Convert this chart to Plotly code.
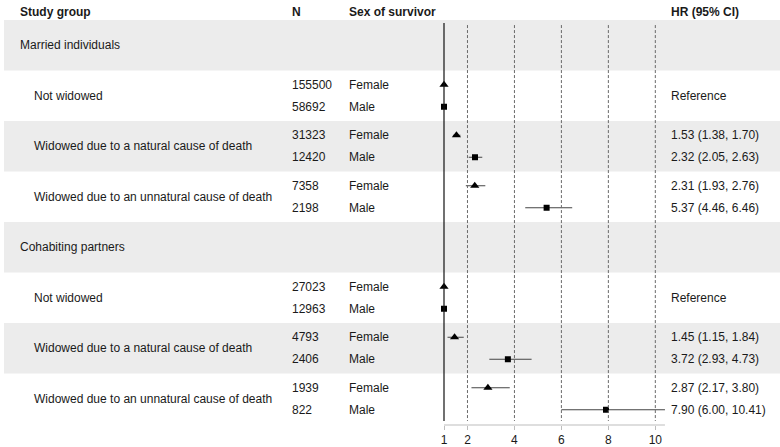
import plotly.graph_objects as go

# ---------------- data ----------------
groups = ["Married individuals", "Cohabiting partners"]
subgroups = ["Not widowed",
             "Widowed due to a natural cause of death",
             "Widowed due to an unnatural cause of death"]
n_female = [155500, 31323, 7358, 27023, 4793, 1939]
n_male = [58692, 12420, 2198, 12963, 2406, 822]
hr_female = [1.00, 1.53, 2.31, 1.00, 1.45, 2.87]
lo_female = [None, 1.38, 1.93, None, 1.15, 2.17]
hi_female = [None, 1.70, 2.76, None, 1.84, 3.80]
hr_male = [1.00, 2.32, 5.37, 1.00, 3.72, 7.90]
lo_male = [None, 2.05, 4.46, None, 2.93, 6.00]
hi_male = [None, 2.63, 6.46, None, 4.73, 10.41]
tick_vals = [1, 2, 4, 6, 8, 10]
ref_lines = [2, 4, 6, 8, 10]
headers = ["Study group", "N", "Sex of survivor", "HR (95% CI)"]

# ---------------- layout geometry ----------------
W, H = 780, 447
TOP = 20.0          # pixel where first row band starts
ROWH = 50.5         # row height in pixels
PLOT_BOTTOM = 425   # pixel of x axis line
PX_PER_UNIT = 23.48
X1_PX = 444.0
XR = [0.5, 10.6]
dom_l = (X1_PX + (XR[0] - 1) * PX_PER_UNIT) / W
dom_r = (X1_PX + (XR[1] - 1) * PX_PER_UNIT) / W
y_top = -TOP / ROWH
y_bot = (PLOT_BOTTOM - TOP) / ROWH
OFF = 11 / ROWH

FONT = "Liberation Sans, Arial, sans-serif"
TXT = "#1a1a1a"

col_x = {"group": 18, "sub": 32, "n": 290, "sex": 347, "hr": 669}

fig = go.Figure()

shapes = []
annotations = []

# header row
for h, x in zip(headers, [col_x["group"], col_x["n"], col_x["sex"], col_x["hr"]]):
    annotations.append(dict(x=x / W, xref="paper", y=-8 / ROWH, yref="y",
                            text="<b>%s</b>" % h, showarrow=False, xanchor="left",
                            yanchor="middle", font=dict(size=12, color=TXT, family=FONT)))

# row bands
n_rows = len(groups) * (len(subgroups) + 1)
for r in range(n_rows):
    if r % 2 == 0:
        shapes.append(dict(type="rect", xref="paper", yref="y", x0=4 / W, x1=1,
                           y0=r, y1=r + 1, fillcolor="#ececec", line_width=0, layer="below"))

fy, my, fx, mx, fex, femx, mex, memx = [], [], [], [], [], [], [], []
for g, gname in enumerate(groups):
    gr = g * (len(subgroups) + 1)
    annotations.append(dict(x=col_x["group"] / W, xref="paper", y=gr + 0.5, yref="y",
                            text=gname, showarrow=False, xanchor="left", yanchor="middle",
                            font=dict(size=12, color=TXT, family=FONT)))
    for k, sname in enumerate(subgroups):
        j = g * len(subgroups) + k
        r = gr + 1 + k
        annotations.append(dict(x=col_x["sub"] / W, xref="paper", y=r + 0.5, yref="y",
                                text=sname, showarrow=False, xanchor="left", yanchor="middle",
                                font=dict(size=12, color=TXT, family=FONT)))
        for yy, n, sex in [(r + 0.5 - OFF, n_female[j], "Female"), (r + 0.5 + OFF, n_male[j], "Male")]:
            annotations.append(dict(x=col_x["n"] / W, xref="paper", y=yy, yref="y",
                                    text=str(n), showarrow=False, xanchor="left", yanchor="middle",
                                    font=dict(size=12, color=TXT, family=FONT)))
            annotations.append(dict(x=col_x["sex"] / W, xref="paper", y=yy, yref="y",
                                    text=sex, showarrow=False, xanchor="left", yanchor="middle",
                                    font=dict(size=12, color=TXT, family=FONT)))
        if lo_female[j] is None:
            annotations.append(dict(x=col_x["hr"] / W, xref="paper", y=r + 0.5, yref="y",
                                    text="Reference", showarrow=False, xanchor="left", yanchor="middle",
                                    font=dict(size=12, color=TXT, family=FONT)))
        else:
            for yy, hr, lo, hi in [(r + 0.5 - OFF, hr_female[j], lo_female[j], hi_female[j]),
                                   (r + 0.5 + OFF, hr_male[j], lo_male[j], hi_male[j])]:
                annotations.append(dict(x=col_x["hr"] / W, xref="paper", y=yy, yref="y",
                                        text="%.2f (%.2f, %.2f)" % (hr, lo, hi), showarrow=False,
                                        xanchor="left", yanchor="middle",
                                        font=dict(size=12, color=TXT, family=FONT)))
        fy.append(r + 0.5 - OFF)
        my.append(r + 0.5 + OFF)
        fx.append(hr_female[j])
        mx.append(hr_male[j])
        fex.append(0 if lo_female[j] is None else hi_female[j] - hr_female[j])
        femx.append(0 if lo_female[j] is None else hr_female[j] - lo_female[j])
        mex.append(0 if lo_male[j] is None else hi_male[j] - hr_male[j])
        memx.append(0 if lo_male[j] is None else hr_male[j] - lo_male[j])

# reference lines
shapes.append(dict(type="line", xref="x", yref="y", x0=1, x1=1, y0=0.06, y1=y_bot - 0.08,
                   line=dict(color="#111111", width=1.2)))
for v in ref_lines:
    shapes.append(dict(type="line", xref="x", yref="y", x0=v, x1=v, y0=0.1, y1=y_bot - 0.08,
                       line=dict(color="#6a6a6a", width=1, dash="3px,2px")))
# axis line (from 1 to end of longest CI)
ci_max = max(v for v in hi_male + hi_female if v is not None)
shapes.append(dict(type="line", xref="x", yref="paper", x0=1, x1=ci_max, y0=(H - PLOT_BOTTOM) / H,
                   y1=(H - PLOT_BOTTOM) / H, line=dict(color="#bdbdbd", width=1)))

fig.add_trace(go.Scatter(x=fx, y=fy, mode="markers", cliponaxis=False,
                         marker=dict(symbol="triangle-up", size=8, color="black"),
                         error_x=dict(type="data", symmetric=False, array=fex, arrayminus=femx,
                                      color="#444444", thickness=1.1, width=0),
                         showlegend=False, hoverinfo="skip"))
fig.add_trace(go.Scatter(x=mx, y=my, mode="markers", cliponaxis=False,
                         marker=dict(symbol="square", size=6, color="black"),
                         error_x=dict(type="data", symmetric=False, array=mex, arrayminus=memx,
                                      color="#444444", thickness=1.1, width=0),
                         showlegend=False, hoverinfo="skip"))

fig.update_layout(
    width=W, height=H, margin=dict(l=0, r=0, t=0, b=0),
    paper_bgcolor="white", plot_bgcolor="rgba(0,0,0,0)",
    shapes=shapes, annotations=annotations,
    xaxis=dict(domain=[dom_l, dom_r], range=XR, tickvals=tick_vals, ticks="outside",
               ticklen=4, tickcolor="#bdbdbd", showgrid=False, zeroline=False, showline=False,
               tickfont=dict(size=12, color=TXT, family=FONT)),
    yaxis=dict(domain=[(H - PLOT_BOTTOM) / H, 1], range=[y_bot, y_top], visible=False,
               showgrid=False, zeroline=False),
)

fig.write_html("out.html")
